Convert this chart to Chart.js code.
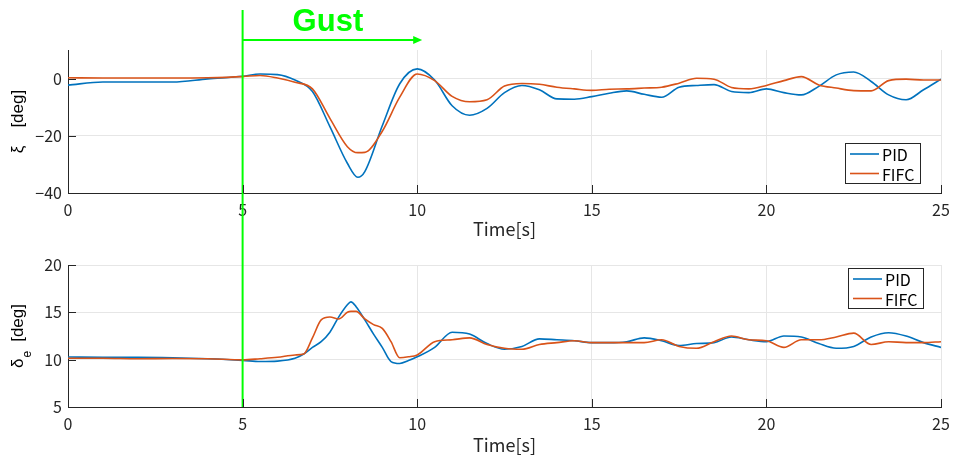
<!DOCTYPE html>
<html>
<head>
<meta charset="utf-8">
<script src="https://cdn.jsdelivr.net/npm/chart.js@4.4.0/dist/chart.umd.min.js"></script>
<style>
  body { margin: 0; background: #fff; width: 953px; height: 458px; overflow: hidden; position: relative; }
  canvas { position: absolute; left: 0; }
  #top { top: 0; }
  #bot { top: 240px; }
</style>
</head>
<body>
<canvas id="top" width="953" height="240"></canvas>
<canvas id="bot" width="953" height="218"></canvas>
<script>
// time samples [s]
var timeTop = [0, 1, 2, 3, 4, 5, 5.5, 6, 6.5, 7, 7.5, 8, 8.3, 8.5,
  9, 9.5, 10, 10.5, 11, 11.5, 12, 12.5, 13, 13.5, 14, 14.5, 15, 15.5, 16, 16.5, 17,
  17.5, 18, 18.5, 19, 19.5, 20, 20.5, 21, 21.5, 22, 22.5, 23, 23.5, 24, 24.5, 25];
var pidXi = [-2.3, -1.2, -1.2, -1.2, -0.1, 0.8, 1.6, 1.4, -0.5, -4.5, -16.8, -29.6, -34.5, -32.5,
  -16.5, -1.8, 3.4, -0.5, -9.5, -12.8, -10.4, -4.9, -2.4, -3.9, -7.1, -7.2, -6.3, -5.1, -4.3, -5.5, -6.5,
  -3.0, -2.4, -2.1, -4.5, -4.9, -3.6, -4.9, -5.7, -2.7, 1.3, 2.3, -1.0, -5.7, -7.4, -3.9, -0.2];
var fifcXi = [0.3, 0.2, 0.2, 0.2, 0.3, 0.7, 1.1, 0.2, -1.3, -3.6, -13.9, -23.8, -25.9, -25.8,
  -18.4, -6.5, 1.6, -0.7, -6.2, -8.1, -7.4, -2.6, -1.7, -2.0, -3.0, -3.6, -4.1, -3.7, -3.6, -3.3, -3.0,
  -1.6, 0.1, -0.2, -3.1, -3.6, -2.4, -0.7, 0.7, -2.2, -3.3, -4.2, -4.3, -0.7, -0.2, -0.5, -0.5];

var timeBot = [0, 1, 2, 3, 4, 5, 5.5, 6, 6.5, 6.75, 7, 7.25, 7.5, 7.75, 8, 8.1, 8.25, 8.5, 8.75,
  9, 9.25, 9.5, 9.75, 10, 10.5, 11, 11.5, 12, 12.5, 13, 13.5, 14, 14.5, 15, 15.5, 16, 16.5, 17,
  17.5, 18, 18.5, 19, 19.5, 20, 20.5, 21, 21.5, 22, 22.5, 23, 23.5, 24, 24.5, 25];
var pidDe = [10.28, 10.25, 10.25, 10.2, 10.1, 9.93, 9.8, 9.85, 10.15, 10.6, 11.3, 11.9, 12.9, 14.5, 15.8, 16.1, 15.6, 14.2, 12.7,
  11.3, 9.8, 9.6, 9.9, 10.3, 11.3, 12.9, 12.7, 11.7, 11.1, 11.4, 12.2, 12.1, 12.0, 11.8, 11.8, 11.9, 12.3, 12.0,
  11.5, 11.7, 11.8, 12.4, 12.1, 11.9, 12.5, 12.4, 11.7, 11.2, 11.4, 12.4, 12.85, 12.5, 11.8, 11.3];
var fifcDe = [10.15, 10.15, 10.1, 10.12, 10.1, 9.98, 10.1, 10.25, 10.5, 10.6, 12.3, 14.2, 14.5, 14.3, 15.0, 15.1, 15.1, 14.3, 13.7,
  13.3, 11.9, 10.2, 10.3, 10.5, 11.9, 12.1, 12.3, 11.6, 11.2, 11.1, 11.6, 11.8, 12.0, 11.8, 11.8, 11.8, 11.8, 12.1,
  11.4, 11.2, 11.9, 12.5, 12.1, 12.0, 11.3, 12.1, 12.1, 12.4, 12.8, 11.6, 11.9, 11.8, 11.8, 11.9];

var xTicks = [0, 5, 10, 15, 20, 25];
var xiTicks = [-40, -20, 0];
var deTicks = [5, 10, 15, 20];
var gustStart = 5, gustEnd = 10;

var blue = '#0072bd', orange = '#d95319', green = '#00ff00', axisCol = '#262626';
var jp = '"Noto Sans CJK JP", "Noto Sans", sans-serif';

function pts(t, v) {
  return t.map(function (x, i) { return { x: x, y: v[i] }; });
}

// MATLAB style ticks pointing into the plot
var inTicks = {
  id: 'inTicks',
  afterDraw: function (chart) {
    var ctx = chart.ctx, a = chart.chartArea, x = chart.scales.x, y = chart.scales.y;
    ctx.save();
    ctx.strokeStyle = axisCol;
    ctx.lineWidth = 1;
    ctx.beginPath();
    x.ticks.forEach(function (t) {
      var px = Math.round(x.getPixelForValue(t.value)) + 0.5;
      ctx.moveTo(px, a.bottom); ctx.lineTo(px, a.bottom - 8);
    });
    y.ticks.forEach(function (t) {
      var py = Math.round(y.getPixelForValue(t.value)) + 0.5;
      ctx.moveTo(a.left, py); ctx.lineTo(a.left + 8, py);
    });
    ctx.stroke();
    ctx.restore();
  }
};

var yLabel = {
  id: 'yLabel',
  afterDraw: function (chart, args, o) {
    var ctx = chart.ctx, a = chart.chartArea;
    var big = '17px "Liberation Sans", sans-serif', small = '12px "Liberation Sans", sans-serif';
    ctx.save();
    ctx.translate(18, (a.top + a.bottom) / 2);
    ctx.rotate(-Math.PI / 2);
    ctx.fillStyle = '#000';
    ctx.textBaseline = 'middle';
    ctx.font = big;
    var w1 = ctx.measureText(o.main).width;
    var w3 = ctx.measureText(o.rest).width;
    ctx.font = small;
    var w2 = o.sub ? ctx.measureText(o.sub).width + 2 : 0;
    var s = -(w1 + w2 + o.gap + w3) / 2;
    ctx.font = big;
    ctx.fillText(o.main, s, 0);
    if (o.sub) {
      ctx.font = small;
      ctx.fillText(o.sub, s + w1 + 1, 10);
    }
    ctx.font = big;
    ctx.fillText(o.rest, s + w1 + w2 + o.gap, 0);
    ctx.restore();
  }
};

var legendBox = {
  id: 'legendBox',
  afterDraw: function (chart, args, o) {
    var ctx = chart.ctx, a = chart.chartArea;
    var w = 76, h = 41;
    var x0 = Math.round(a.right - o.right - w);
    var y0 = Math.round(o.fromBottom != null ? a.bottom - o.fromBottom - h : a.top + o.fromTop);
    ctx.save();
    ctx.fillStyle = '#fff';
    ctx.fillRect(x0, y0, w, h);
    ctx.strokeStyle = axisCol;
    ctx.lineWidth = 1;
    ctx.strokeRect(x0 + 0.5, y0 + 0.5, w - 1, h - 1);
    ctx.font = '16px ' + jp;
    ctx.textBaseline = 'middle';
    chart.data.datasets.forEach(function (ds, i) {
      var yy = y0 + 11 + i * 19.5;
      ctx.strokeStyle = ds.borderColor;
      ctx.lineWidth = 1.6;
      ctx.beginPath(); ctx.moveTo(x0 + 5, yy); ctx.lineTo(x0 + 34, yy); ctx.stroke();
      ctx.fillStyle = '#000';
      ctx.fillText(ds.label, x0 + 37, yy + 1);
    });
    ctx.restore();
  }
};

var gustMark = {
  id: 'gustMark',
  afterDatasetsDraw: function (chart, args, o) {
    var ctx = chart.ctx, x = chart.scales.x;
    var px = x.getPixelForValue(gustStart);
    var yEnd = o.toBottom ? chart.chartArea.bottom : chart.height;
    ctx.save();
    ctx.strokeStyle = green;
    ctx.fillStyle = green;
    ctx.lineWidth = 2;
    ctx.beginPath(); ctx.moveTo(px, o.yStart); ctx.lineTo(px, yEnd); ctx.stroke();
    if (o.label) {
      var pe = x.getPixelForValue(gustEnd) + 5;
      ctx.beginPath(); ctx.moveTo(px, 40); ctx.lineTo(pe - 6, 40); ctx.stroke();
      ctx.beginPath(); ctx.moveTo(pe, 40); ctx.lineTo(pe - 9, 36); ctx.lineTo(pe - 9, 44); ctx.closePath(); ctx.fill();
      ctx.font = 'bold 31px "Liberation Sans", sans-serif';
      ctx.textBaseline = 'alphabetic';
      ctx.fillText(o.label, px + 50, 31);
    }
    ctx.restore();
  }
};

function minus(v) { return v < 0 ? '\u2212' + Math.abs(v) : String(v); }

function makeChart(id, t, pid, fifc, yMin, yMax, yTicks, padTop, xAxisH, titlePadB, plug) {
  return new Chart(document.getElementById(id), {
    type: 'line',
    data: {
      datasets: [
        { label: 'PID', data: pts(t, pid), borderColor: blue, borderWidth: 1.6, pointRadius: 0, cubicInterpolationMode: 'monotone', order: 1 },
        { label: 'FIFC', data: pts(t, fifc), borderColor: orange, borderWidth: 1.6, pointRadius: 0, cubicInterpolationMode: 'monotone', order: 0 }
      ]
    },
    options: {
      responsive: false,
      animation: false,
      events: [],
      layout: { padding: { left: 0, right: 12, top: padTop, bottom: 0 } },
      scales: {
        x: {
          type: 'linear', min: 0, max: 25,
          afterBuildTicks: function (s) { s.ticks = xTicks.map(function (v) { return { value: v }; }); },
          afterFit: function (s) { s.height = xAxisH; s.paddingLeft = 0; s.paddingRight = 0; },
          grid: { color: '#e6e6e6', drawTicks: false },
          border: { color: axisCol, width: 1 },
          ticks: { color: axisCol, padding: 7, maxRotation: 0, font: { family: jp, size: 16 } },
          title: { display: true, text: 'Time[s]', color: axisCol, padding: { top: 0, bottom: titlePadB }, font: { family: jp, size: 18, lineHeight: 1 } }
        },
        y: {
          min: yMin, max: yMax,
          afterBuildTicks: function (s) { s.ticks = yTicks.map(function (v) { return { value: v }; }); },
          afterFit: function (s) { s.width = 68; s.paddingTop = 0; s.paddingBottom = 0; },
          grid: { color: '#e6e6e6', drawTicks: false },
          border: { color: axisCol, width: 1 },
          ticks: { color: axisCol, padding: 6, font: { family: jp, size: 16 }, callback: minus }
        }
      },
      plugins: Object.assign({ legend: { display: false }, tooltip: { enabled: false } }, plug)
    },
    plugins: [inTicks, yLabel, legendBox, gustMark]
  });
}

var topChart = makeChart('top', timeTop, pidXi, fifcXi, -40, 10, xiTicks, 50, 47, 2, {
  yLabel: { main: '\u03be', sub: '', rest: '[deg]', gap: 18 },
  legendBox: { right: 20, fromBottom: 9 },
  gustMark: { yStart: 10, toBottom: false, label: 'Gust' }
});

var botChart = makeChart('bot', timeBot, pidDe, fifcDe, 5, 20, deTicks, 25, 51, 4, {
  yLabel: { main: '\u03b4', sub: 'e', rest: '[deg]', gap: 8 },
  legendBox: { right: 17, fromTop: 3 },
  gustMark: { yStart: 0, toBottom: true, label: '' }
});
</script>
</body>
</html>
